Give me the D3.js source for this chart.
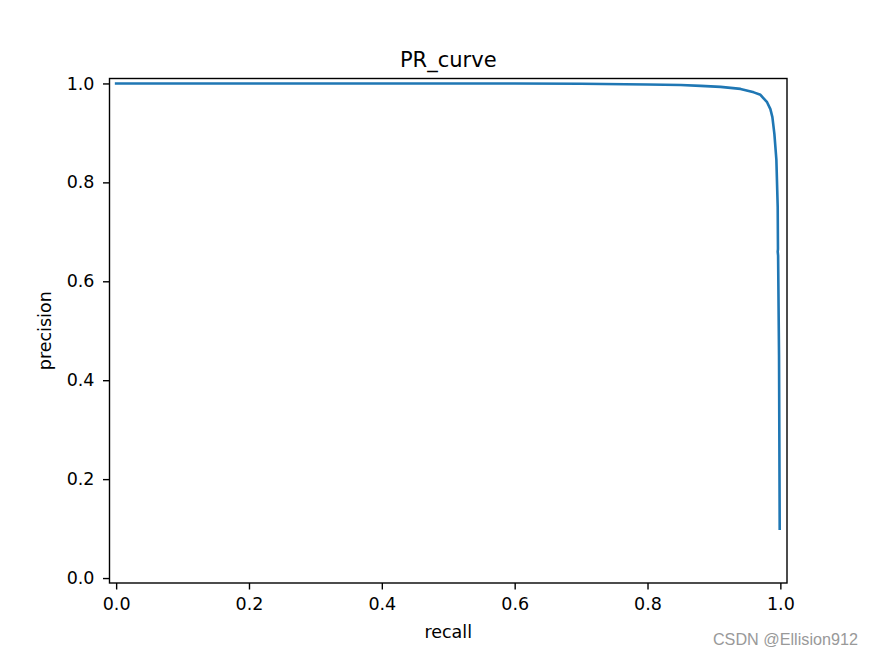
<!DOCTYPE html>
<html>
<head>
<meta charset="utf-8">
<script src="https://cdn.jsdelivr.net/npm/d3@7"></script>
<style>
html,body{margin:0;padding:0;background:#fff;}
svg{display:block;}
text{font-family:"DejaVu Sans",sans-serif;}
</style>
</head>
<body>
<svg id="chart" width="874" height="655"></svg>
<script>
const recall = [0, 0.1, 0.2, 0.3, 0.4, 0.5, 0.6, 0.7, 0.8, 0.85, 0.88, 0.91, 0.94, 0.96, 0.97, 0.98, 0.985, 0.988, 0.991, 0.994, 0.996, 0.9964, 0.9960, 0.9966, 0.998, 0.999];
const precision = [1.0, 1.0, 1.0, 1.0, 1.0, 1.0, 1.0, 0.9995, 0.998, 0.997, 0.995, 0.993, 0.989, 0.982, 0.977, 0.962, 0.948, 0.932, 0.898, 0.846, 0.75, 0.665, 0.66, 0.652, 0.45, 0.10];
const xTicks = [0.0, 0.2, 0.4, 0.6, 0.8, 1.0];
const yTicks = [0.0, 0.2, 0.4, 0.6, 0.8, 1.0];
const titleText = "PR_curve";
const xLabel = "recall";
const yLabel = "precision";
const watermark = "CSDN @Ellision912";

const W = 874, H = 655;
const m = {left: 109.5, right: 787, top: 78.5, bottom: 583};
const svg = d3.select("#chart");

const x = d3.scaleLinear().domain([-0.01, 1.01]).range([m.left, m.right]);
const y = d3.scaleLinear().domain([-0.01, 1.01]).range([m.bottom, m.top]);

const tickLen = 6.5, fs = 17.5;

// curve
const pts = recall.map((r, i) => [r, precision[i]]);
svg.append("path")
  .datum(pts)
  .attr("fill", "none")
  .attr("stroke", "#1f77b4")
  .attr("stroke-width", 2.6)
  .attr("stroke-linejoin", "round")
  .attr("stroke-linecap", "square")
  .attr("d", d3.line().x(d => x(d[0])).y(d => y(d[1])));

// axes
const xAxis = d3.axisBottom(x).tickValues(xTicks).tickFormat(d3.format(".1f")).tickSize(tickLen).tickPadding(8.5).tickSizeOuter(0);
const yAxis = d3.axisLeft(y).tickValues(yTicks).tickFormat(d3.format(".1f")).tickSize(tickLen).tickPadding(8.5).tickSizeOuter(0);

const gx = svg.append("g").attr("transform", `translate(0,${m.bottom})`).call(xAxis);
const gy = svg.append("g").attr("transform", `translate(${m.left},0)`).call(yAxis);
[gx, gy].forEach(g => {
  g.select(".domain").remove();
  g.selectAll(".tick line").attr("stroke", "#000").attr("stroke-width", 1.4);
  g.selectAll(".tick text").attr("fill", "#000").style("font-size", fs + "px").style("font-family", "DejaVu Sans");
});

// frame
svg.append("rect")
  .attr("x", m.left).attr("y", m.top)
  .attr("width", m.right - m.left).attr("height", m.bottom - m.top)
  .attr("fill", "none").attr("stroke", "#000").attr("stroke-width", 1.4);

// title and labels
svg.append("text").attr("x", (m.left + m.right) / 2).attr("y", 67)
  .attr("text-anchor", "middle").style("font-size", "21px").text(titleText);
svg.append("text").attr("x", (m.left + m.right) / 2).attr("y", 637.5)
  .attr("text-anchor", "middle").style("font-size", fs + "px").text(xLabel);
svg.append("text").attr("transform", `translate(50.7,${(m.top + m.bottom) / 2}) rotate(-90)`)
  .attr("text-anchor", "middle").style("font-size", fs + "px").text(yLabel);

// watermark
svg.append("text").attr("x", 858).attr("y", 645)
  .attr("text-anchor", "end").attr("fill", "#999")
  .style("font-family", "Liberation Sans, Arial, sans-serif").style("font-size", "16.2px").text(watermark);
</script>
</body>
</html>
